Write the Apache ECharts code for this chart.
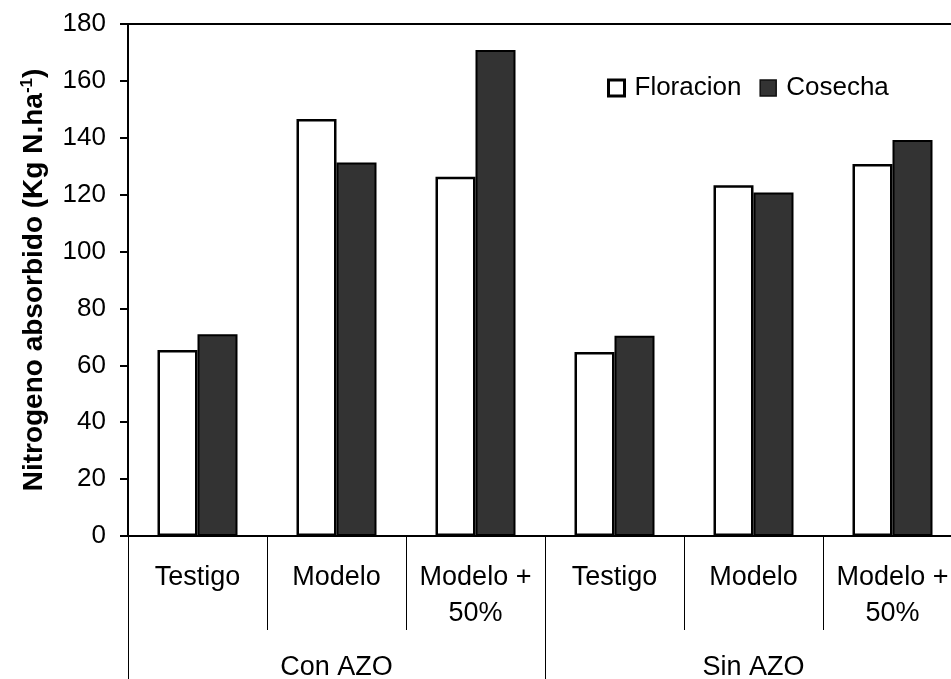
<!DOCTYPE html>
<html>
<head>
<meta charset="utf-8">
<script src="https://cdn.jsdelivr.net/npm/echarts@6/dist/echarts.min.js"></script>
<style>html,body{margin:0;padding:0;background:#fff;}#c{width:951px;height:679px;}</style>
</head>
<body>
<div id="c"></div>
<script>
var categories = ['Testigo', 'Modelo', 'Modelo +\n50%', 'Testigo', 'Modelo', 'Modelo +\n50%'];
var groups = ['Con AZO', 'Sin AZO'];
var floracion = [65.4, 146.6, 126.3, 64.7, 123.3, 130.8];
var cosecha = [70.9, 131.3, 170.9, 70.4, 120.8, 139.2];
var yTicks = [0, 20, 40, 60, 80, 100, 120, 140, 160, 180];

var FONT = '"Liberation Sans", Arial, sans-serif';
var chart = echarts.init(document.getElementById('c'), null, {renderer: 'canvas'});
chart.setOption({
  animation: false,
  backgroundColor: '#fff',
  textStyle: {fontFamily: FONT, color: '#000'},
  grid: {left: 128, top: 24, width: 834, bottom: 143, outerBoundsMode: 'none', containLabel: false,
         show: true, borderColor: '#000', borderWidth: 2, backgroundColor: 'transparent'},
  legend: {
    left: 602, top: 70, itemWidth: 16, itemHeight: 16, itemGap: 18,
    icon: 'rect',
    textStyle: {fontFamily: FONT, fontSize: 26, color: '#000', padding: [0, 0, 0, 5]},
    data: [
      {name: 'Floracion', itemStyle: {color: '#fff', borderColor: '#000', borderWidth: 3}},
      {name: 'Cosecha', itemStyle: {color: '#333333', borderColor: '#111', borderWidth: 1.5}}
    ]
  },
  xAxis: [
    {
      type: 'category', data: categories, position: 'bottom',
      axisLine: {show: true, lineStyle: {color: '#000', width: 2}},
      axisTick: {show: true, interval: 0, length: 94, lineStyle: {color: '#000', width: 1}},
      axisLabel: {interval: 0, margin: 24, fontFamily: FONT, fontSize: 27, color: '#000', lineHeight: 36}
    },
    {
      type: 'category', data: groups, position: 'bottom', gridIndex: 0,
      axisLine: {show: false},
      axisTick: {show: true, interval: 0, length: 150, lineStyle: {color: '#000', width: 1}},
      axisLabel: {interval: 0, margin: 114, fontFamily: FONT, fontSize: 27, color: '#000', lineHeight: 36}
    }
  ],
  yAxis: {
    type: 'value', min: yTicks[0], max: yTicks[yTicks.length - 1], interval: 20,
    splitLine: {show: false},
    axisLine: {show: true, lineStyle: {color: '#000', width: 2}},
    axisTick: {show: true, length: 8, lineStyle: {color: '#000', width: 2}},
    axisLabel: {margin: 22, fontFamily: FONT, fontSize: 26, color: '#000'},
    name: '{a|Nitrogeno absorbido (Kg N.ha}{s|-1}{a|)}',
    nameLocation: 'middle', nameRotate: 90, nameGap: 78,
    nameTextStyle: {
      rich: {
        a: {fontFamily: FONT, fontSize: 28, fontWeight: 'bold', color: '#000'},
        s: {fontFamily: FONT, fontSize: 17, fontWeight: 'bold', color: '#000', verticalAlign: 'top', padding: [0, 0, 14, 0]}
      }
    }
  },
  series: [
    {
      name: 'Floracion', type: 'bar', xAxisIndex: 0, data: floracion,
      barWidth: 40, barGap: '0%',
      itemStyle: {color: '#fff', borderColor: '#000', borderWidth: 2.5}
    },
    {
      name: 'Cosecha', type: 'bar', xAxisIndex: 0, data: cosecha,
      barWidth: 40, barGap: '0%',
      itemStyle: {color: '#333333', borderColor: '#000', borderWidth: 2}
    }
  ]
});
</script>
</body>
</html>
